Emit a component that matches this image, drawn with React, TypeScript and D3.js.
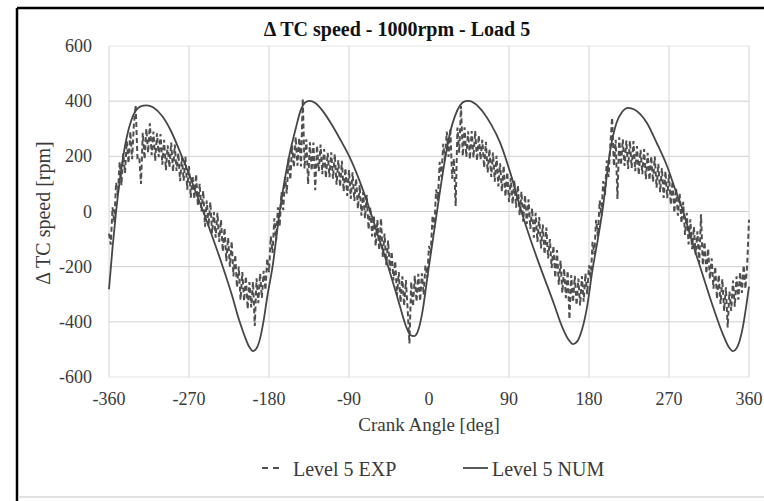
import React from "react";
import * as d3 from "d3";

const TITLE = "\u0394 TC speed - 1000rpm - Load 5";
const Y_TITLE = "\u0394 TC speed [rpm]";
const X_TITLE = "Crank Angle [deg]";
const X_TICKS = [-360, -270, -180, -90, 0, 90, 180, 270, 360];
const X_GRID = [-360, -270, -180, -90, 90, 180, 270, 360];
const Y_TICKS = [-600, -400, -200, 0, 200, 400, 600];
const SERIES_NAMES = ["Level 5 EXP", "Level 5 NUM"];

// Experimental: every 2 deg from -360 to 360
const EXP_START = -360;
const EXP_STEP = 2;
const EXP_VALUES = [
  -80, -120, 15, -40, 105, 60, 180, 95, 210, 140,
  255, 175, 290, 190, 315, 385, 195, 200, 100, 285,
  190, 300, 213, 320, 204, 290, 184, 283, 197, 281,
  170, 260, 150, 240, 160, 250, 144, 243, 147, 211,
  110, 196, 112, 198, 79, 165, 50, 130, 45, 135,
  20, 100, 0, 75, -55, 40, -53, 34, -79, -2,
  -95, -5, -110, -30, -145, -60, -180, -95, -200, -108,
  -235, -157, -275, -200, -320, -220, -325, -235, -353, -256,
  -348, -255, -415, -242, -332, -225, -313, -215, -285, -170,
  -220, -90, -150, -25, -105, 15, -55, 70, 5, 125,
  65, 195, 115, 240, 160, 270, 166, 267, 163, 410,
  155, 262, 99, 251, 148, 250, 77, 239, 146, 243,
  135, 226, 122, 213, 124, 215, 119, 208, 97, 186,
  90, 184, 73, 157, 56, 150, 46, 142, 38, 119,
  10, 95, -15, 70, -25, 60, -65, 15, -90, -15,
  -125, -30, -140, -25, -165, -80, -195, -105, -215, -145,
  -250, -180, -305, -220, -330, -235, -342, -249, -356, -478,
  -255, -344, -233, -327, -226, -325, -224, -302, -195, -240,
  -125, -150, -15, -60, 80, 40, 180, 125, 245, 185,
  290, 198, 301, 119, 192, 20, 304, 213, 383, 201,
  305, 198, 291, 189, 292, 195, 292, 184, 276, 188,
  260, 159, 253, 142, 226, 125, 214, 108, 202, 91,
  175, 73, 166, 54, 142, 35, 121, 27, 113, 14,
  95, -14, 72, -37, 59, -45, 44, -63, 11, -95,
  -5, -110, -20, -134, -47, -155, -58, -170, -100, -205,
  -125, -240, -140, -265, -178, -295, -207, -314, -215, -390,
  -230, -329, -233, -340, -243, -341, -234, -327, -225, -300,
  -195, -245, -110, -155, -30, -90, 40, -15, 110, 60,
  185, 125, 240, 340, 165, 260, 45, 269, 168, 262,
  165, 257, 154, 256, 158, 255, 146, 237, 133, 224,
  135, 226, 117, 213, 114, 200, 107, 199, 86, 173,
  70, 157, 49, 146, 48, 135, 25, 110, -5, 85,
  -15, 64, -42, 35, -85, -5, -119, -28, -137, -56,
  -157, -72, -187, -10, -195, -110, -225, -135, -245, -170,
  -280, -200, -317, -230, -335, -245, -360, -275, -420, -290,
  -360, -250, -345, -235, -320, -220, -295, -195, -280, -190,
  -30,
];

// Numerical: crank angle / speed pairs
const NUM_ANGLES = [
  -360, -356, -352, -348, -344, -340, -335, -330, -325, -318, -310, -300, -290, -280, -270, -260, -254, -245,
  -232, -222, -213, -207, -202, -198, -194, -190, -186, -182, -176, -168, -158, -150, -144, -138, -134, -128,
  -119, -110, -100, -89, -78, -66, -55, -44, -33, -26, -21, -17, -13, -8, -1, 4, 9, 18, 24, 29, 35, 41, 45,
  52, 61, 70, 80, 92, 104, 114, 125, 140, 150, 157, 162, 167, 172, 178, 184, 190, 195, 204, 211, 217, 224,
  231, 245, 256, 268, 277, 286, 296, 305, 320, 330, 337, 342, 347, 353, 357, 360,
];
const NUM_VALUES = [
  -282, -130, 0, 110, 200, 270, 330, 365, 380, 385, 377, 345, 290, 215, 135, 50, 0, -80,
  -200, -300, -400, -455, -492, -506, -496, -460, -395, -310, -200, 0, 190, 300, 370, 398, 401, 393,
  362, 318, 262, 195, 110, 0, -110, -220, -340, -415, -448, -452, -438, -375, -220, -110, 0, 188, 290, 344, 385, 400, 401,
  391, 360, 315, 250, 135, 0, -100, -200, -330, -420, -465, -481, -470, -430, -343, -210, -100, 0, 224, 322, 360, 376,
  370, 322, 250, 163, 80, 0, -110, -200, -350, -440, -490, -506, -490, -420, -340, -272,
];

const W = 764;
const H = 501;
const FONT = "'Liberation Serif', 'Times New Roman', serif";

export default function App() {
  const x = d3.scaleLinear().domain([-360, 360]).range([109, 749]);
  const y = d3.scaleLinear().domain([-600, 600]).range([377, 46]);

  const expData: [number, number][] = EXP_VALUES.map((v, i) => [EXP_START + i * EXP_STEP, v]);
  const numData: [number, number][] = NUM_ANGLES.map((a, i) => [a, NUM_VALUES[i]]);

  const expLine = d3
    .line<[number, number]>()
    .x((d) => x(d[0]))
    .y((d) => y(d[1]));
  const numLine = d3
    .line<[number, number]>()
    .x((d) => x(d[0]))
    .y((d) => y(d[1]))
    .curve(d3.curveMonotoneX);

  const textColor = "#3a3a3a";

  return (
    <svg
      width={W}
      height={H}
      style={{ position: "absolute", left: 0, top: 0, background: "#fff" }}
      fontFamily={FONT}
    >
      <rect x={0} y={0} width={W} height={H} fill="#fff" />
      {/* frame */}
      <line x1={17} y1={8} x2={W} y2={8} stroke="#000" strokeWidth={2.5} />
      <line x1={17} y1={8} x2={17} y2={H} stroke="#000" strokeWidth={2.5} />
      <line x1={18} y1={497} x2={W} y2={497} stroke="#d8d8d8" strokeWidth={1.5} />

      {/* grid */}
      {Y_TICKS.map((t) => (
        <line
          key={"gy" + t}
          x1={x(-360)}
          x2={x(360)}
          y1={y(t)}
          y2={y(t)}
          stroke={Math.abs(t) === 600 ? "#e4e4e4" : "#cfcfcf"}
          strokeWidth={1}
        />
      ))}
      {X_GRID.map((t) => (
        <line
          key={"gx" + t}
          x1={x(t)}
          x2={x(t)}
          y1={y(600)}
          y2={y(-600)}
          stroke="#d4d4d4"
          strokeWidth={1}
        />
      ))}

      {/* series */}
      <path
        d={expLine(expData) || ""}
        fill="none"
        stroke="#4f4f4f"
        strokeWidth={2}
        strokeDasharray="5,3"
      />
      <path d={numLine(numData) || ""} fill="none" stroke="#464646" strokeWidth={1.8} />

      {/* tick labels */}
      {Y_TICKS.map((t) => (
        <text key={"ty" + t} x={92} y={y(t) + 6} textAnchor="end" fontSize={18} fill={textColor}>
          {t}
        </text>
      ))}
      {X_TICKS.map((t) => (
        <text key={"tx" + t} x={x(t)} y={405} textAnchor="middle" fontSize={18} fill={textColor}>
          {t}
        </text>
      ))}

      {/* titles */}
      <text x={397} y={36} textAnchor="middle" fontSize={20} fontWeight="bold" fill="#111">
        {TITLE}
      </text>
      <text x={429} y={431} textAnchor="middle" fontSize={19} fill={textColor}>
        {X_TITLE}
      </text>
      <text
        transform={`translate(50, 213) rotate(-90)`}
        textAnchor="middle"
        fontSize={20}
        fill={textColor}
      >
        {Y_TITLE}
      </text>

      {/* legend */}
      <line x1={262} x2={284} y1={468} y2={468} stroke="#4f4f4f" strokeWidth={2} strokeDasharray="6,5" />
      <text x={293} y={476} fontSize={20} fill={textColor}>
        {SERIES_NAMES[0]}
      </text>
      <line x1={463} x2={488} y1={468} y2={468} stroke="#464646" strokeWidth={1.8} />
      <text x={492} y={476} fontSize={20} fill={textColor}>
        {SERIES_NAMES[1]}
      </text>
    </svg>
  );
}
